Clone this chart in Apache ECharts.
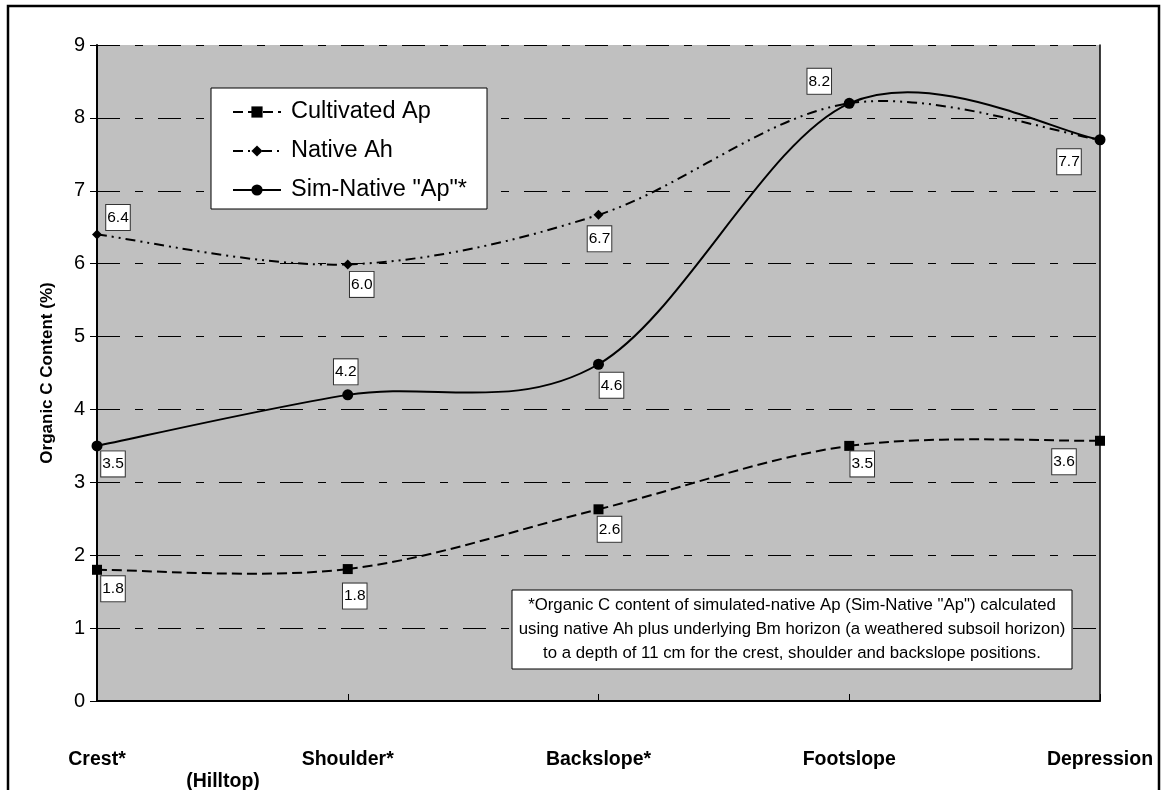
<!DOCTYPE html>
<html>
<head>
<meta charset="utf-8">
<script src="https://cdn.jsdelivr.net/npm/echarts@6/dist/echarts.min.js"></script>
<style>
  html, body { margin: 0; padding: 0; background: #fff; }
  #chart { width: 1162px; height: 790px; }
</style>
</head>
<body>
<div id="chart"></div>
<script>
// slope positions
const positions = ['Crest*', 'Shoulder*', 'Backslope*', 'Footslope', 'Depression']

// organic C content (%)
const cultivatedAp = [1.8, 1.81, 2.63, 3.5, 3.57]
const nativeAh = [6.4, 5.99, 6.67, 8.2, 7.7]
const simNativeAp = [3.5, 4.2, 4.62, 8.2, 7.7]

const seriesNames = ['Cultivated Ap', 'Native Ah', 'Sim-Native "Ap"*']

// where each data label box sits relative to its point (null = hidden)
const cultivatedOffsets = [[16, 19], [7, 27], [11, 20], [13, 18], [-36, 21]]
const nativeOffsets = [[21, -17], [14, 20], [1, 24], null, null]
const simOffsets = [[16, 18], [-2, -23], [13, 21], [-30, -22], [-31, 22]]

const FONT = '"Liberation Sans", Arial, sans-serif'

const dashCultivated = [10, 5]
const dashNative = [10, 5, 2, 5, 2, 5]

const labelBase = {
  show: true,
  position: 'inside',
  formatter: p => p.value.toFixed(1),
  fontFamily: FONT,
  fontSize: 15.5,
  color: '#000',
  backgroundColor: '#fff',
  borderColor: '#333',
  borderWidth: 1,
  padding: [5, 1, 4, 1]
}

function buildData(values, offsets) {
  let out = []
  for (let i = 0; i < values.length; i++) {
    let off = offsets[i]
    out.push({
      value: values[i],
      label: off ? {show: true, offset: off} : {show: false}
    })
  }
  return out
}

// points + labels (the line itself is drawn by the curve series below)
function makeSeries(name, values, offsets, symbol, symbolSize, lineType) {
  return {
    name: name,
    type: 'line',
    z: 3,
    symbol: symbol,
    symbolSize: symbolSize,
    showAllSymbol: true,
    lineStyle: {color: '#000', width: 2, type: lineType, opacity: 0},
    itemStyle: {color: '#000'},
    label: labelBase,
    emphasis: {disabled: true},
    data: buildData(values, offsets)
  }
}

// Excel-like smoothed line (Catmull-Rom bezier) through the axis coords
function makeCurve(name, values, lineType) {
  return {
    name: name + ' curve',
    type: 'custom',
    coordinateSystem: 'cartesian2d',
    z: 2,
    silent: true,
    data: values.map((v, i) => [i, v]),
    renderItem: function (params, api) {
      if (params.dataIndex !== 0) return null
      const pts = values.map((v, i) => api.coord([i, v]))
      const n = pts.length
      const children = []
      for (let i = 0; i < n - 1; i++) {
        const p0 = pts[Math.max(i - 1, 0)]
        const p1 = pts[i]
        const p2 = pts[i + 1]
        const p3 = pts[Math.min(i + 2, n - 1)]
        children.push({
          type: 'bezierCurve',
          shape: {
            x1: p1[0], y1: p1[1],
            x2: p2[0], y2: p2[1],
            cpx1: p1[0] + (p2[0] - p0[0]) / 6,
            cpy1: p1[1] + (p2[1] - p0[1]) / 6,
            cpx2: p2[0] - (p3[0] - p1[0]) / 6,
            cpy2: p2[1] - (p3[1] - p1[1]) / 6
          },
          style: {stroke: '#000', lineWidth: 2, fill: null, lineDash: lineType}
        })
      }
      return {type: 'group', children: children}
    }
  }
}

const chart = echarts.init(document.getElementById('chart'))
const option = {
  animation: false,
  textStyle: {fontFamily: FONT},
  grid: {
    left: 97, right: 62, top: 45, bottom: 89,
    show: true,
    backgroundColor: '#c0c0c0',
    borderWidth: 0
  },
  legend: {
    orient: 'vertical',
    left: 211,
    top: 88,
    data: seriesNames.map(n => ({name: n, lineStyle: {opacity: 1}})),
    backgroundColor: '#fff',
    borderColor: '#000',
    borderWidth: 1,
    padding: [12, 20, 7, 21],
    itemWidth: 48,
    itemHeight: 14,
    itemGap: 15,
    textStyle: {fontFamily: FONT, fontSize: 23.5, color: '#000', padding: [0, 0, 0, 5]}
  },
  xAxis: {
    type: 'category',
    boundaryGap: false,
    data: positions,
    axisLine: {lineStyle: {color: '#000', width: 2}},
    axisTick: {show: true, inside: true, length: 7, lineStyle: {color: '#000', width: 1}},
    axisLabel: {
      color: '#000', fontFamily: FONT, fontSize: 19.5, fontWeight: 'bold', margin: 49,
      interval: 0
    },
    splitLine: {show: false}
  },
  yAxis: [{
    type: 'value',
    min: 0,
    max: 9,
    interval: 1,
    name: 'Organic C Content (%)',
    nameLocation: 'middle',
    nameGap: 41,
    nameTextStyle: {fontFamily: FONT, fontSize: 17, fontWeight: 'bold', color: '#000'},
    axisLine: {show: true, lineStyle: {color: '#000', width: 2}},
    axisTick: {show: true, length: 7, lineStyle: {color: '#000', width: 1}},
    axisLabel: {color: '#000', fontFamily: FONT, fontSize: 20, margin: 12},
    splitLine: {show: true, lineStyle: {color: '#000', width: 1, type: [23, 15, 8, 15]}}
  }, {
    type: 'value',
    position: 'right',
    min: 0,
    max: 9,
    interval: 1,
    axisLine: {show: true, lineStyle: {color: '#000', width: 1.5}},
    axisTick: {show: false},
    axisLabel: {show: false},
    splitLine: {show: false}
  }],
  series: [
    makeCurve(seriesNames[0], cultivatedAp, dashCultivated),
    makeCurve(seriesNames[1], nativeAh, dashNative),
    makeCurve(seriesNames[2], simNativeAp, null),
    makeSeries(seriesNames[0], cultivatedAp, cultivatedOffsets, 'rect', 10, dashCultivated),
    makeSeries(seriesNames[1], nativeAh, nativeOffsets, 'diamond', 10, dashNative),
    makeSeries(seriesNames[2], simNativeAp, simOffsets, 'circle', 11, 'solid')
  ],
  graphic: [
    {
      type: 'rect',
      shape: {x: 8, y: 6, width: 1151, height: 800},
      style: {fill: 'none', stroke: '#000', lineWidth: 2.5},
      silent: true
    },
    {
      type: 'text',
      x: 223, y: 782,
      style: {
        text: '(Hilltop)', fontFamily: FONT, fontSize: 19.5, fontWeight: 'bold',
        fill: '#000', align: 'center', verticalAlign: 'middle'
      }
    },
    {
      type: 'rect',
      shape: {x: 512, y: 590, width: 560, height: 79},
      style: {fill: '#fff', stroke: '#000', lineWidth: 1},
      z: 100
    },
    {
      type: 'text',
      x: 792, y: 629.5,
      z: 101,
      style: {
        text: '*Organic C content of simulated-native Ap (Sim-Native "Ap") calculated\n' +
          'using native Ah plus underlying Bm horizon (a weathered subsoil horizon)\n' +
          'to a depth of 11 cm for the crest, shoulder and backslope positions.',
        fontFamily: FONT, fontSize: 16.8, lineHeight: 24, fill: '#000',
        align: 'center', verticalAlign: 'middle'
      }
    }
  ]
}
chart.setOption(option)
</script>
</body>
</html>
